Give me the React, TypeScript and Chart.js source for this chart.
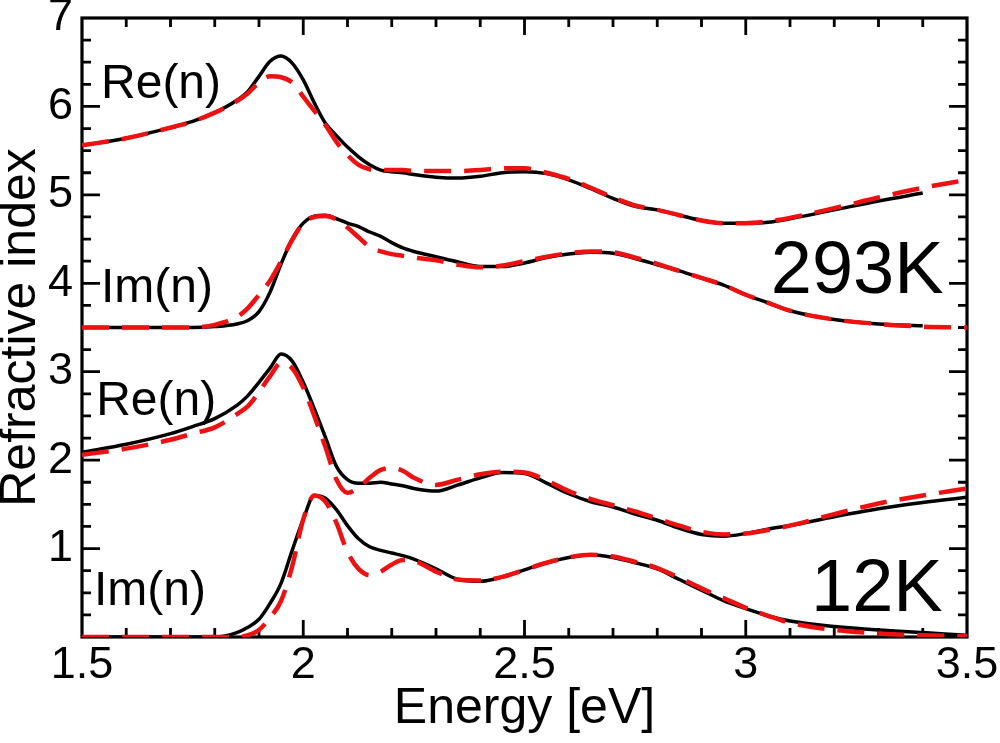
import React, { useEffect, useRef } from 'react'
import { Chart, registerables } from 'chart.js'

Chart.register(...registerables)

const FONT = "'Liberation Sans', Arial, Helvetica, sans-serif"
const RED = '#ee1111'
const BLACK = '#000000'

// photon energy grid [eV]
const energy = [
	1.5, 1.6, 1.7, 1.75, 1.8, 1.85, 1.875, 1.9, 1.925, 1.95, 1.975, 2.0, 2.025, 2.05, 2.075, 2.1, 2.125, 2.15,
	2.175, 2.2, 2.225, 2.25, 2.3, 2.35, 2.4, 2.45, 2.5, 2.55, 2.6, 2.65, 2.7, 2.75, 2.8, 2.85, 2.9, 2.95, 3.0,
	3.05, 3.1, 3.2, 3.3, 3.4, 3.5,
]

// 293K, measured (black) and model (red)
const re293Meas = [
	5.56, 5.64, 5.76, 5.83, 5.93, 6.07, 6.17, 6.34, 6.51, 6.57, 6.49, 6.3, 6.04, 5.81, 5.67, 5.54, 5.43, 5.34, 5.28,
	5.26, 5.25, 5.23, 5.2, 5.19, 5.21, 5.25, 5.26, 5.24, 5.17, 5.07, 4.96, 4.87, 4.83, 4.77, 4.71, 4.68, 4.68, 4.69,
	4.73, 4.83, 4.93, 5.02, null,
]
const re293Model = [
	5.56, 5.64, 5.76, 5.83, 5.93, 6.06, 6.15, 6.27, 6.34, 6.33, 6.27, 6.11, 5.95, 5.79, 5.6, 5.45, 5.34, 5.29, 5.28,
	5.28, 5.28, 5.27, 5.27, 5.27, 5.28, 5.3, 5.3, 5.25, 5.18, 5.08, 4.97, 4.88, 4.83, 4.77, 4.71, 4.68, 4.68, 4.7,
	4.74, 4.85, 4.97, 5.08, 5.17,
]
const im293Meas = [
	3.5, 3.5, 3.5, 3.5, 3.51, 3.54, 3.58, 3.68, 3.9, 4.22, 4.5, 4.68, 4.76, 4.77, 4.73, 4.68, 4.64, 4.58, 4.53, 4.46,
	4.4, 4.36, 4.3, 4.24, 4.19, 4.19, 4.23, 4.29, 4.33, 4.35, 4.34, 4.28, 4.21, 4.14, 4.06, 3.98, 3.87, 3.78, 3.69,
	3.59, 3.54, 3.52, null,
]
const im293Model = [
	3.5, 3.5, 3.5, 3.5, 3.53, 3.62, 3.72, 3.87, 4.03, 4.25, 4.49, 4.68, 4.75, 4.76, 4.72, 4.63, 4.52, 4.41, 4.36,
	4.33, 4.31, 4.29, 4.26, 4.21, 4.18, 4.2, 4.25, 4.3, 4.34, 4.36, 4.35, 4.29, 4.22, 4.14, 4.06, 3.98, 3.87, 3.78,
	3.69, 3.59, 3.54, 3.51, 3.5,
]

// 12K
const re12Meas = [
	2.09, 2.18, 2.3, 2.38, 2.47, 2.62, 2.73, 2.88, 3.04, 3.2, 3.12, 2.88, 2.58, 2.26, 1.93, 1.78, 1.74, 1.74, 1.75,
	1.73, 1.71, 1.68, 1.65, 1.72, 1.8, 1.86, 1.85, 1.74, 1.62, 1.53, 1.47, 1.39, 1.32, 1.23, 1.16, 1.14, 1.17, 1.22,
	1.26, 1.36, 1.45, 1.52, 1.58,
]
const re12Model = [
	2.06, 2.13, 2.23, 2.3, 2.37, 2.52, 2.61, 2.77, 2.95, 3.1, 3.04, 2.82, 2.5, 2.15, 1.78, 1.63, 1.69, 1.8, 1.89, 1.91,
	1.88, 1.8, 1.72, 1.78, 1.84, 1.87, 1.86, 1.77, 1.65, 1.56, 1.49, 1.42, 1.34, 1.26, 1.19, 1.16, 1.17, 1.21, 1.26,
	1.39, 1.51, 1.6, 1.68,
]
const im12Meas = [
	0, 0, 0, 0, 0, 0.05, 0.11, 0.2, 0.38, 0.61, 0.98, 1.33, 1.6, 1.57, 1.44, 1.26, 1.11, 1.02, 0.98, 0.95, 0.92,
	0.88, 0.77, 0.65, 0.63, 0.68, 0.76, 0.84, 0.9, 0.93, 0.9, 0.84, 0.77, 0.65, 0.53, 0.41, 0.32, 0.24, 0.18, 0.12,
	0.08, 0.05, 0.02,
]
const im12Model = [
	0, 0, 0, 0, 0, 0, 0.02, 0.08, 0.22, 0.41, 0.8, 1.33, 1.6, 1.53, 1.29, 0.96, 0.77, 0.7, 0.74, 0.82, 0.87, 0.86,
	0.74, 0.65, 0.64, 0.68, 0.76, 0.84, 0.9, 0.93, 0.91, 0.85, 0.78, 0.67, 0.55, 0.44, 0.33, 0.24, 0.16, 0.08, 0.04,
	0.02, 0.01,
]

// in-plot labels, anchored in data units
const notes = [
	{ text: 'Re(n)', x: 1.543, y: 6.1, size: 48, align: 'left' },
	{ text: 'Im(n)', x: 1.543, y: 3.79, size: 48, align: 'left' },
	{ text: 'Re(n)', x: 1.532, y: 2.51, size: 48, align: 'left' },
	{ text: 'Im(n)', x: 1.527, y: 0.36, size: 48, align: 'left' },
	{ text: '293K', x: 3.447, y: 3.89, size: 74, align: 'right' },
	{ text: '12K', x: 3.445, y: 0.29, size: 74, align: 'right' },
]

const xMinorStep = 0.1
const yMinorStep = 0.25

const toPoints = (vals: (number | null)[]) => energy.map((e, i) => ({ x: e, y: vals[i] }))

const framePlugin = {
	id: 'frame',
	beforeDatasetsDraw(chart: any) {
		const { ctx, chartArea: a, scales } = chart
		const x = scales.x
		const y = scales.y
		ctx.save()
		ctx.strokeStyle = BLACK
		ctx.lineWidth = 3.2
		ctx.strokeRect(a.left, a.top, a.right - a.left, a.bottom - a.top)
		ctx.lineWidth = 2.8
		ctx.beginPath()
		const nx = Math.round((x.max - x.min) / xMinorStep)
		for (let i = 1; i < nx; i++) {
			const px = x.getPixelForValue(x.min + i * xMinorStep)
			const len = i % 5 === 0 ? 17 : 9
			ctx.moveTo(px, a.bottom)
			ctx.lineTo(px, a.bottom - len)
			ctx.moveTo(px, a.top)
			ctx.lineTo(px, a.top + len)
		}
		const ny = Math.round((y.max - y.min) / yMinorStep)
		for (let i = 1; i < ny; i++) {
			const py = y.getPixelForValue(y.min + i * yMinorStep)
			const len = i % 4 === 0 ? 18 : 9
			ctx.moveTo(a.left, py)
			ctx.lineTo(a.left + len, py)
			ctx.moveTo(a.right, py)
			ctx.lineTo(a.right - len, py)
		}
		ctx.stroke()
		ctx.restore()
	},
	afterDraw(chart: any) {
		const { ctx, scales } = chart
		ctx.save()
		ctx.fillStyle = BLACK
		ctx.textBaseline = 'alphabetic'
		notes.forEach((n) => {
			ctx.font = `${n.size}px ${FONT}`
			ctx.textAlign = n.align
			ctx.fillText(n.text, scales.x.getPixelForValue(n.x), scales.y.getPixelForValue(n.y))
		})
		ctx.restore()
	},
}

function line(vals: (number | null)[], model: boolean) {
	return {
		data: toPoints(vals),
		borderColor: model ? RED : BLACK,
		borderWidth: model ? 4.5 : 3.5,
		borderDash: model ? [27, 13] : [],
		pointRadius: 0,
		fill: false,
		cubicInterpolationMode: 'monotone',
		order: model ? 0 : 1,
	}
}

function RefractiveChart() {
	const refCanvas = useRef<HTMLCanvasElement>(null)

	useEffect(() => {
		let chart: Chart | undefined
		if (refCanvas.current) {
			chart = new Chart(refCanvas.current, {
				type: 'line',
				data: {
					datasets: [
						line(re293Meas, false),
						line(re293Model, true),
						line(im293Meas, false),
						line(im293Model, true),
						line(re12Meas, false),
						line(re12Model, true),
						line(im12Meas, false),
						line(im12Model, true),
					] as any,
				},
				options: {
					animation: false,
					responsive: false,
					devicePixelRatio: 1,
					layout: { padding: { top: 18, right: 33, left: 0, bottom: 0 } },
					plugins: {
						legend: { display: false },
						tooltip: { enabled: false },
					},
					scales: {
						x: {
							type: 'linear',
							position: 'bottom',
							min: 1.5,
							max: 3.5,
							grid: { display: false, drawTicks: false },
							border: { display: false },
							ticks: {
								stepSize: 0.5,
								autoSkip: false,
								maxRotation: 0,
								padding: 2,
								color: BLACK,
								font: { family: FONT, size: 45 },
								callback: (v: any) => String(v),
							},
							title: {
								display: true,
								text: 'Energy [eV]',
								color: BLACK,
								font: { family: FONT, size: 50 },
								padding: { top: 0, bottom: 4 },
							},
							afterFit: (s: any) => {
								s.height = 106
								s.paddingLeft = 0
								s.paddingRight = 0
							},
						},
						y: {
							type: 'linear',
							min: 0,
							max: 7,
							grid: { display: false, drawTicks: false },
							border: { display: false },
							ticks: {
								stepSize: 1,
								padding: 9,
								color: BLACK,
								font: { family: FONT, size: 45 },
								callback: (v: any) => (v === 0 ? '' : String(v)),
							},
							title: {
								display: true,
								text: 'Refractive index',
								color: BLACK,
								font: { family: FONT, size: 50 },
								padding: { top: -9, bottom: 0 },
							},
							afterFit: (s: any) => {
								s.width = 82
								s.paddingTop = 0
								s.paddingBottom = 0
							},
						},
					},
				} as any,
				plugins: [framePlugin as any],
			})
		}
		return () => chart?.destroy()
	}, [])

	return <canvas ref={refCanvas} width={1000} height={743} style={{ display: 'block' }} />
}

export default function App() {
	return (
		<div style={{ position: 'absolute', left: 0, top: 0, width: 1000, height: 743, background: '#fff' }}>
			<RefractiveChart />
		</div>
	)
}
